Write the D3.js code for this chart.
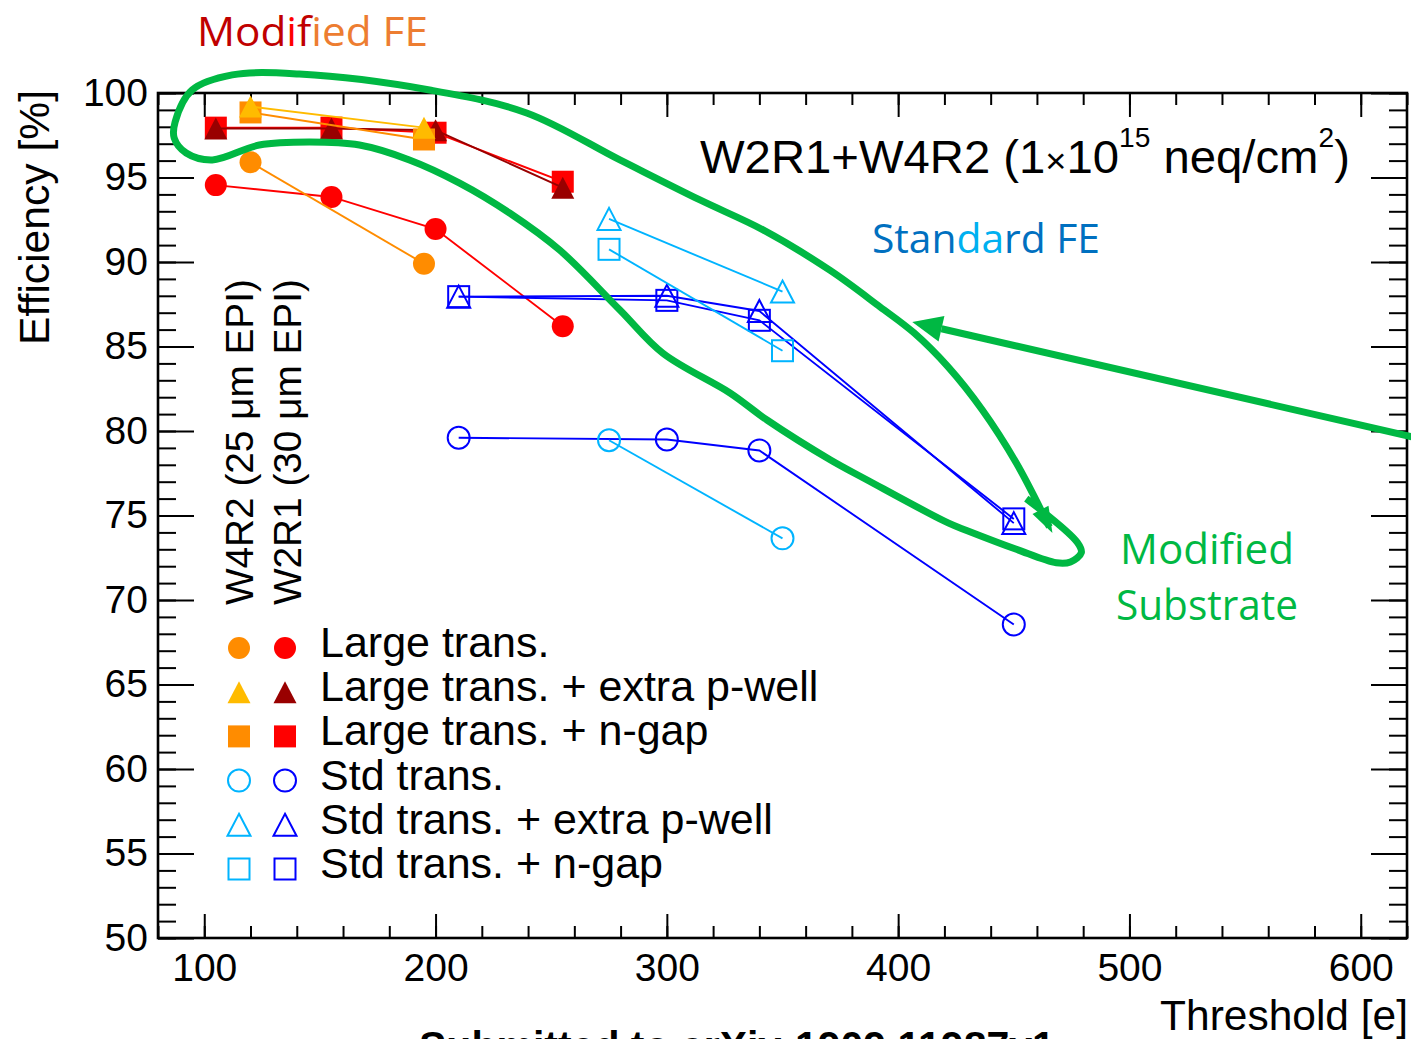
<!DOCTYPE html>
<html>
<head>
<meta charset="utf-8">
<script src="https://cdn.jsdelivr.net/npm/d3@7"></script>
<style>
  body { margin: 0; background: #fff; }
  svg { display: block; }
</style>
</head>
<body>
<svg id="chart" width="1411" height="1039"></svg>
<script>
// ---- axis setup ----
const xDomain = [80, 620];
const yDomain = [50, 100];
const xMajorTicks = [100, 200, 300, 400, 500, 600];
const xMinorTicks = d3.range(80, 621, 20);
const yMajorTicks = d3.range(50, 101, 5);
const yMinorTicks = d3.range(50, 101, 1);

// ---- series: [threshold (e), efficiency (%)] ----
// Modified FE, W4R2 (25 um EPI)
const w4r2Large      = [[120, 95.9], [195, 89.9]];
const w4r2LargePwell = [[120, 99.2], [195, 97.95]];
const w4r2LargeNgap  = [[120, 98.85], [195, 97.25]];
// Modified FE, W2R1 (30 um EPI)
const w2r1Large      = [[105, 94.55], [155, 93.85], [200, 91.95], [255, 86.2]];
const w2r1LargePwell = [[105, 97.9], [155, 97.9], [200, 97.8], [255, 94.4]];
const w2r1LargeNgap  = [[105, 97.95], [155, 97.95], [200, 97.65], [255, 94.75]];
// Standard FE, W4R2
const w4r2Std        = [[275, 79.45], [350, 73.65]];
const w4r2StdPwell   = [[275, 92.55], [350, 88.25]];
const w4r2StdNgap    = [[275, 90.75], [350, 84.75]];
// Standard FE, W2R1
const w2r1Std        = [[210, 79.6], [300, 79.5], [340, 78.85], [450, 68.55]];
const w2r1StdPwell   = [[210, 87.95], [300, 88.0], [340, 87.1], [450, 74.55]];
const w2r1StdNgap    = [[210, 87.95], [300, 87.73], [340, 86.55], [450, 74.8]];

const legendLabels = ["Large trans.", "Large trans. + extra p-well", "Large trans. + n-gap",
                      "Std trans.", "Std trans. + extra p-well", "Std trans. + n-gap"];
const legendShapes = ["circle", "triangle", "square", "circle", "triangle", "square"];
const legendFilled = [true, true, true, false, false, false];
const w4r2Colors = ["#ff8c00", "#ffbb00", "#ff8c00", "#00b4ff", "#00b4ff", "#00b4ff"];
const w2r1Colors = ["#ff0000", "#990000", "#ff0000", "#0000ff", "#0000ff", "#0000ff"];
const waferLabels = ["W4R2 (25 \u03bcm EPI)", "W2R1 (30 \u03bcm EPI)"];

// hand-drawn highlight (threshold, efficiency units)
const lassoPath = [
  [455.4, 76.0], [477.5, 73.4], [479.2, 72.8], [474.5, 72.25], [468.4, 72.2],
  [451.1, 73.0], [429.9, 74.1], [421.6, 74.56], [386.6, 77.1], [370.6, 78.3],
  [343.3, 80.65], [327.3, 82.25], [298.3, 84.6], [279.7, 87.16], [253.7, 90.7],
  [232.0, 92.9], [210.4, 94.67], [188.7, 96.04], [167.1, 96.92], [145.5, 97.1],
  [123.8, 96.92], [103.5, 96.04], [92.2, 96.45], [87.0, 97.34], [87.4, 98.28],
  [94.8, 100.18], [112.1, 101.07], [141.1, 101.12], [197.4, 100.18], [239.4, 98.82],
  [279.7, 96.04], [314.3, 93.67], [341.6, 91.9], [370.6, 89.5], [392.2, 87.34],
  [406.9, 85.8], [421.6, 83.79], [436.4, 81.24], [451.1, 78.1], [465.4, 74.32]
];
const pointerArrow = [[622.5, 79.64], [406.1, 86.45]];

// ---- layout ----
const svg = d3.select("#chart");
const frame = { left: 158, top: 93, right: 1407, bottom: 938 };
const FONT = "'Liberation Sans', Arial, Helvetica, sans-serif";
const NOTE_FONT = "'Open Sans', 'Noto Sans', sans-serif";
const GREEN = "#00b843";

const x = d3.scaleLinear().domain(xDomain).range([frame.left, frame.right]);
const y = d3.scaleLinear().domain(yDomain).range([frame.bottom, frame.top]);

// text helper: places text at (x,y), optional rotation, optionally squeezed to a width
function label(parent, o) {
  const t = parent.append("text")
    .attr("font-family", o.family || FONT)
    .attr("font-size", o.size)
    .attr("font-weight", o.weight || "normal")
    .attr("text-anchor", o.anchor || "start")
    .attr("fill", o.fill || "#000");
  (o.parts || [{ text: o.text }]).forEach(p => {
    const ts = t.append("tspan").text(p.text);
    if (p.fill) ts.attr("fill", p.fill);
    if (p.size) ts.attr("font-size", p.size);
    if (p.dy) ts.attr("dy", p.dy);
  });
  let s = 1;
  if (o.width) s = o.width / t.node().getComputedTextLength();
  t.attr("transform", `translate(${o.x},${o.y})${o.rotate ? ` rotate(${o.rotate})` : ""} scale(${s},1)`);
  return t;
}

// ---- axes (ROOT style: ticks inside, mirrored on top/right) ----
function styleAxis(g) {
  g.select(".domain").remove();
  g.selectAll(".tick line").attr("stroke", "#000").attr("stroke-width", 2);
  g.selectAll(".tick text").attr("font-family", FONT).attr("font-size", 39).attr("fill", "#000");
}
const none = () => "";

svg.append("g").attr("transform", `translate(0,${frame.bottom})`)
  .call(d3.axisBottom(x).tickValues(xMinorTicks).tickSize(-12).tickFormat(none)).call(styleAxis);
svg.append("g").attr("transform", `translate(0,${frame.bottom})`)
  .call(d3.axisBottom(x).tickValues(xMajorTicks).tickSize(-24).tickPadding(15).tickFormat(d3.format("d")))
  .call(styleAxis);
svg.append("g").attr("transform", `translate(0,${frame.top})`)
  .call(d3.axisTop(x).tickValues(xMinorTicks).tickSize(-12).tickFormat(none)).call(styleAxis);
svg.append("g").attr("transform", `translate(0,${frame.top})`)
  .call(d3.axisTop(x).tickValues(xMajorTicks).tickSize(-24).tickFormat(none)).call(styleAxis);

svg.append("g").attr("transform", `translate(${frame.left},0)`)
  .call(d3.axisLeft(y).tickValues(yMinorTicks).tickSize(-18).tickFormat(none)).call(styleAxis);
svg.append("g").attr("transform", `translate(${frame.left},0)`)
  .call(d3.axisLeft(y).tickValues(yMajorTicks).tickSize(-36).tickPadding(10).tickFormat(d3.format("d")))
  .call(styleAxis);
svg.append("g").attr("transform", `translate(${frame.right},0)`)
  .call(d3.axisRight(y).tickValues(yMinorTicks).tickSize(-18).tickFormat(none)).call(styleAxis);
svg.append("g").attr("transform", `translate(${frame.right},0)`)
  .call(d3.axisRight(y).tickValues(yMajorTicks).tickSize(-36).tickFormat(none)).call(styleAxis);

svg.append("rect")
  .attr("x", frame.left).attr("y", frame.top)
  .attr("width", frame.right - frame.left).attr("height", frame.bottom - frame.top)
  .attr("fill", "none").attr("stroke", "#000").attr("stroke-width", 2.6);

// axis titles
label(svg, { text: "Efficiency [%]", x: 49, y: 90, rotate: -90, anchor: "end", size: 42, width: 255 });
label(svg, { text: "Threshold [e]", x: 1408, y: 1030, anchor: "end", size: 42, width: 248 });

// ---- markers ----
function drawMarker(g, shape, filled, color, cx, cy) {
  let m;
  if (shape === "circle") {
    m = g.append("circle").attr("cx", cx).attr("cy", cy).attr("r", 11);
  } else if (shape === "square") {
    const s = filled ? 22 : 21;
    m = g.append("rect").attr("x", cx - s / 2).attr("y", cy - s / 2).attr("width", s).attr("height", s);
  } else {
    const w = 23, h = 22;
    m = g.append("path").attr("d",
      `M${cx},${cy - h / 2}L${cx + w / 2},${cy + h / 2}L${cx - w / 2},${cy + h / 2}Z`);
  }
  if (filled) m.attr("fill", color).attr("stroke", "none");
  else m.attr("fill", "none").attr("stroke", color).attr("stroke-width", 2);
  return m;
}

const line = d3.line().x(d => x(d[0])).y(d => y(d[1]));
function drawSeries(data, shape, filled, color) {
  const g = svg.append("g");
  g.append("path").datum(data).attr("d", line)
    .attr("fill", "none").attr("stroke", color).attr("stroke-width", 1.9);
  data.forEach(d => drawMarker(g, shape, filled, color, x(d[0]), y(d[1])));
}

// drawing order: W2R1 first, then W4R2 on top
drawSeries(w2r1LargeNgap,  "square",   true, w2r1Colors[2]);
drawSeries(w2r1LargePwell, "triangle", true, w2r1Colors[1]);
drawSeries(w2r1Large,      "circle",   true, w2r1Colors[0]);
drawSeries(w4r2LargeNgap,  "square",   true, w4r2Colors[2]);
drawSeries(w4r2LargePwell, "triangle", true, w4r2Colors[1]);
drawSeries(w4r2Large,      "circle",   true, w4r2Colors[0]);
drawSeries(w2r1Std,        "circle",   false, w2r1Colors[3]);
drawSeries(w2r1StdNgap,    "square",   false, w2r1Colors[5]);
drawSeries(w2r1StdPwell,   "triangle", false, w2r1Colors[4]);
drawSeries(w4r2Std,        "circle",   false, w4r2Colors[3]);
drawSeries(w4r2StdNgap,    "square",   false, w4r2Colors[5]);
drawSeries(w4r2StdPwell,   "triangle", false, w4r2Colors[4]);

// ---- legend ----
const legend = svg.append("g");
const legendTop = 648, legendStep = 44.2;
legendLabels.forEach((txt, i) => {
  const cy = legendTop + i * legendStep;
  drawMarker(legend, legendShapes[i], legendFilled[i], w4r2Colors[i], 239, cy);
  drawMarker(legend, legendShapes[i], legendFilled[i], w2r1Colors[i], 285, cy);
  label(legend, { text: txt, x: 320, y: cy + 9, size: 43 });
});

// wafer column headers (vertical)
label(svg, { text: waferLabels[0], x: 253, y: 605, rotate: -90, size: 39, width: 326 });
label(svg, { text: waferLabels[1], x: 301, y: 605, rotate: -90, size: 39, width: 326 });

// title
label(svg, {
  x: 700, y: 173, size: 47, width: 650,
  parts: [
    { text: "W2R1+W4R2 (1" },
    { text: "\u00d7", size: 36 },
    { text: "10" },
    { text: "15", size: 28, dy: -26 },
    { text: " neq/cm", dy: 26 },
    { text: "2", size: 28, dy: -26 },
    { text: ")", dy: 26 }
  ]
});

// ---- annotations ----
label(svg, {
  x: 197, y: 46, size: 40, family: NOTE_FONT, width: 231,
  parts: [
    { text: "Mod", fill: "#c00000" },
    { text: "i", fill: "#ff0000" },
    { text: "f", fill: "#c00000" },
    { text: "ied FE", fill: "#ed7d31" }
  ]
});
label(svg, {
  x: 872, y: 253, size: 40, family: NOTE_FONT, width: 228,
  parts: [
    { text: "Stan", fill: "#0070c0" },
    { text: "da", fill: "#00b0f0" },
    { text: "rd FE", fill: "#0070c0" }
  ]
});
label(svg, { text: "Modified", x: 1120, y: 564, size: 42, family: NOTE_FONT, fill: GREEN, width: 174 });
label(svg, { text: "Substrate", x: 1116, y: 620, size: 42, family: NOTE_FONT, fill: GREEN, width: 182 });

const notes = svg.append("g");
const lassoLine = d3.line().x(d => x(d[0])).y(d => y(d[1])).curve(d3.curveCatmullRom.alpha(0.5));
notes.append("path").datum(lassoPath).attr("d", lassoLine)
  .attr("fill", "none").attr("stroke", GREEN).attr("stroke-width", 7)
  .attr("stroke-linecap", "butt").attr("stroke-linejoin", "round");

function arrowHead(tip, from, len, half) {
  const dx = tip[0] - from[0], dy = tip[1] - from[1];
  const L = Math.hypot(dx, dy), ux = dx / L, uy = dy / L;
  const bx = tip[0] - ux * len, by = tip[1] - uy * len;
  return { base: [bx, by],
    d: `M${tip[0]},${tip[1]}L${bx - uy * half},${by + ux * half}L${bx + uy * half},${by - ux * half}Z` };
}
// head at the end of the lasso stroke
{
  const n = lassoPath.length;
  const tip = [x(lassoPath[n - 1][0]), y(lassoPath[n - 1][1])];
  const prev = [x(lassoPath[n - 2][0]), y(lassoPath[n - 2][1])];
  const h = arrowHead([tip[0] + 3, tip[1] + 6], prev, 26, 9);
  notes.append("path").attr("d", h.d).attr("fill", GREEN);
}
// pointer arrow from the right edge
{
  const tail = [x(pointerArrow[0][0]), y(pointerArrow[0][1])];
  const tip = [x(pointerArrow[1][0]), y(pointerArrow[1][1])];
  const h = arrowHead(tip, tail, 30, 13);
  notes.append("line")
    .attr("x1", tail[0]).attr("y1", tail[1]).attr("x2", h.base[0]).attr("y2", h.base[1])
    .attr("stroke", GREEN).attr("stroke-width", 7);
  notes.append("path").attr("d", h.d).attr("fill", GREEN);
}

// footer (runs off the bottom edge)
label(svg, { text: "Submitted to arXiv:1909.11987v1", x: 419, y: 1061, size: 42, weight: "bold", width: 636 });
</script>
</body>
</html>
